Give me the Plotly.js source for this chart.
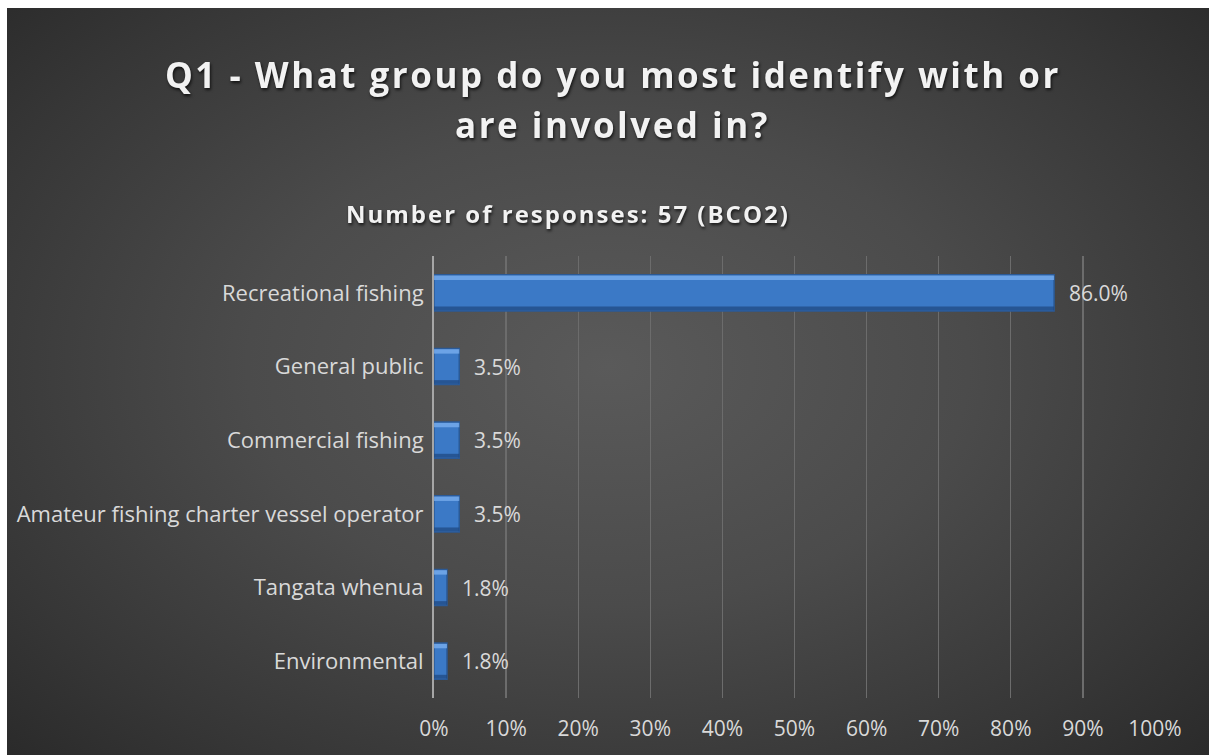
<!DOCTYPE html>
<html>
<head>
<meta charset="utf-8">
<script src="https://cdn.plot.ly/plotly-3.0.1.min.js"></script>
<style>
  html, body { margin: 0; padding: 0; background: #ffffff; width: 1209px; height: 755px; overflow: hidden; }
  #chart {
    position: absolute; left: 7px; top: 8px; width: 1202px; height: 747px;
    background: radial-gradient(ellipse 75% 80% at 50% 48%, #5a5a5a 0%, #4b4b4b 40%, #363636 75%, #262626 100%);
  }
</style>
</head>
<body>
<div id="chart"></div>
<script>
const categories = [
  "Recreational fishing",
  "General public",
  "Commercial fishing",
  "Amateur fishing charter vessel operator",
  "Tangata whenua",
  "Environmental"
];
const values = [86.0, 3.5, 3.5, 3.5, 1.8, 1.8];
const tickVals = [0, 10, 20, 30, 40, 50, 60, 70, 80, 90, 100];
const tickLabels = ["0%", "10%", "20%", "30%", "40%", "50%", "60%", "70%", "80%", "90%", "100%"];
const titleLine1 = "Q1 - What group do you most identify with or";
const titleLine2 = "are involved in?";
const subtitle = "Number of responses: 57 (BCO2)";

const FONT = "Open Sans, sans-serif";
const labelFont = { family: FONT, size: 21, color: "#d9d9d9" };
const catFont = { family: FONT, size: 22, color: "#d9d9d9" };

const bars = {
  type: "bar", orientation: "h", x: values, y: categories,
  marker: { color: "#3b79c6", line: { color: "#2b5a97", width: 1.5 } },
  hoverinfo: "skip", width: 0.49
};
const topEdge = {
  type: "bar", orientation: "h", x: values, y: categories,
  marker: { color: "rgba(125,178,240,0.75)", line: { width: 0 } },
  hoverinfo: "skip", width: 0.06, offset: -0.235
};
const bottomEdge = {
  type: "bar", orientation: "h", x: values, y: categories,
  marker: { color: "rgba(30,70,125,0.7)", line: { width: 0 } },
  hoverinfo: "skip", width: 0.05, offset: 0.185
};

const dataLabels = values.map((v, i) => ({
  x: v, y: categories[i], xref: "x", yref: "y",
  text: v.toFixed(1) + "%",
  showarrow: false, xanchor: "left", xshift: 13,
  font: labelFont
}));
const titles = [
  { xref: "paper", yref: "paper", x: 0.248, y: 1.41, xanchor: "center", yanchor: "middle",
    text: "<b>" + titleLine1 + "</b>", showarrow: false,
    font: { family: FONT, size: 35, color: "#f2f2f2" } },
  { xref: "paper", yref: "paper", x: 0.248, y: 1.298, xanchor: "center", yanchor: "middle",
    text: "<b>" + titleLine2 + "</b>", showarrow: false,
    font: { family: FONT, size: 35, color: "#f2f2f2" } },
  { xref: "paper", yref: "paper", x: 0.186, y: 1.097, xanchor: "center", yanchor: "middle",
    text: "<b>" + subtitle + "</b>", showarrow: false,
    font: { family: FONT, size: 24, color: "#f2f2f2" } }
];

const layout = {
  width: 1202, height: 747,
  paper_bgcolor: "rgba(0,0,0,0)", plot_bgcolor: "rgba(0,0,0,0)",
  margin: { l: 427, r: 54, t: 248, b: 57 },
  showlegend: false, barmode: "overlay",
  xaxis: {
    range: [0, 100], tickvals: tickVals, ticktext: tickLabels,
    showgrid: true, gridcolor: "#6c6c6c", gridwidth: 1.3,
    zeroline: false, showline: false, ticks: "", ticklabelstandoff: 16,
    tickfont: labelFont, fixedrange: true
  },
  yaxis: {
    autorange: "reversed", showgrid: false, zeroline: false,
    showline: true, linecolor: "#a6a6a6", linewidth: 2,
    ticks: "", ticklabelstandoff: 4,
    tickfont: catFont, fixedrange: true
  },
  annotations: dataLabels.concat(titles)
};

Plotly.newPlot("chart", [bars, topEdge, bottomEdge], layout, { displayModeBar: false, staticPlot: true }).then(() => {
  document.querySelectorAll("#chart .annotation-text").forEach(t => {
    const s = t.textContent;
    if (s === titleLine1 || s === titleLine2) {
      t.style.letterSpacing = "2.5px";
      t.style.filter = "drop-shadow(1px 2px 1.5px rgba(0,0,0,0.7))";
    } else if (s === subtitle) {
      t.style.letterSpacing = "2px";
      t.style.filter = "drop-shadow(1px 2px 1.5px rgba(0,0,0,0.7))";
    }
  });
});
</script>
</body>
</html>
